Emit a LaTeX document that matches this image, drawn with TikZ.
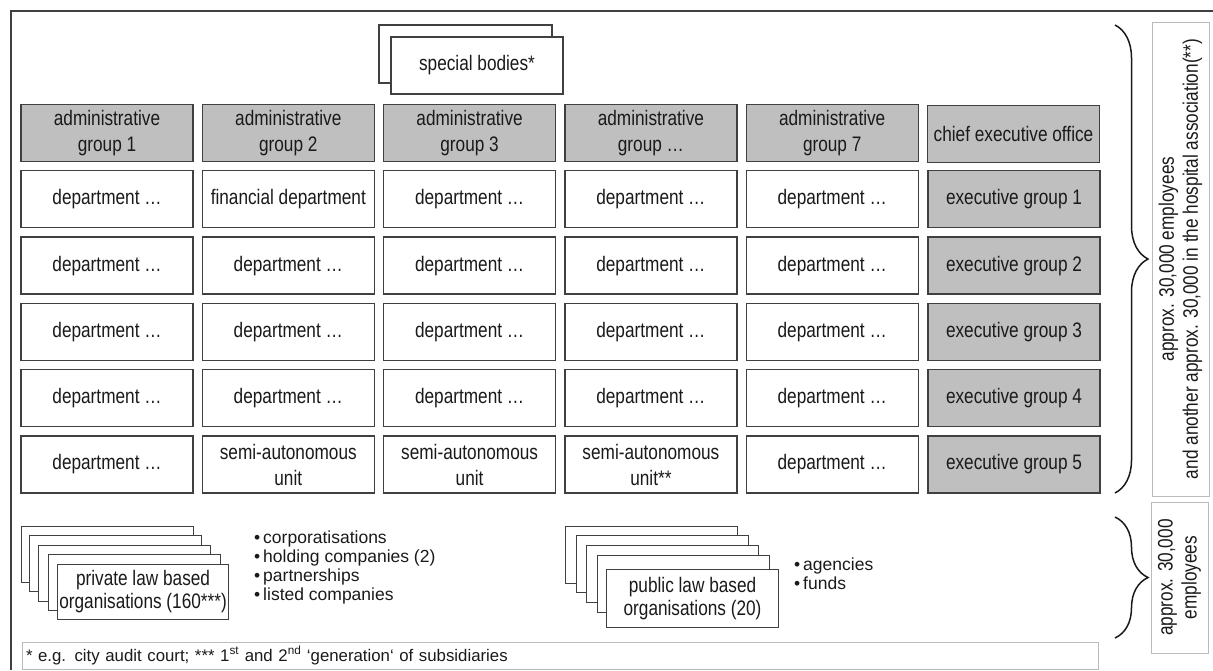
\documentclass[tikz,border=0pt]{standalone}
\usepackage{fontspec}
\setmainfont{Liberation Sans}[FakeStretch=0.82]
\newfontfamily\widefont{Liberation Sans}
\usetikzlibrary{decorations.pathreplacing}
\definecolor{boxgrey}{HTML}{BFBFBF}
\definecolor{edge}{HTML}{404040}
\definecolor{lightedge}{HTML}{BBBBBB}
\definecolor{ink}{HTML}{1A1A1A}
\tikzset{
  cell/.style={draw=edge, line width=1.3pt, fill=white, minimum width=172pt, minimum height=57pt, inner sep=0pt, align=center, text=ink, font=\fontsize{21}{26}\selectfont},
  gcell/.style={cell, fill=boxgrey},
  stackbox/.style={draw=edge, line width=1.1pt, fill=white},
  sidebox/.style={draw=lightedge, line width=1pt, inner sep=0pt, align=center, text=ink, font=\fontsize{21}{24}\selectfont, rotate=90},
  bullets/.style={align=left, text=ink, inner sep=0pt, font=\widefont\fontsize{17.5}{19}\selectfont},
  bracestyle/.style={draw=ink, line width=1.5pt, decorate, decoration={brace, amplitude=33pt}}
}
\begin{document}
\begin{tikzpicture}[x=1pt, y=-1pt]
\useasboundingbox (0,0) rectangle (1213,670);
% outer frame
\coordinate (fbl) at (11,670);
\coordinate (ftl) at (11,11);
\coordinate (ftr) at (1213,11);
\draw[color=edge, line width=1.5pt] (fbl) -- (ftl) -- (ftr);

% special bodies
\node[stackbox, minimum width=173pt, minimum height=58pt, inner sep=0pt] (sb0) at (465.5,54) {};
\node[cell, minimum width=172pt, minimum height=57pt] (sb1) at (477,65.5) {special bodies*};

% columns
\foreach \i/\t in {1/{administrative\\group 1},2/{administrative\\group 2},3/{administrative\\group 3},4/{administrative\\group \dots},5/{administrative\\group 7}}{
  \node[gcell] (adm\i) at ({107+181.3*(\i-1)},133) {\t};
}
\node[gcell] (ceo) at (1013.5,134) {chief executive office};

% department rows
\foreach \r in {1,...,5}{
  \node[gcell] (ex\r) at (1014,{133+66.3*\r}) {executive group \r};
}
\node[cell] (d11) at (107,199.3) {department \dots};
\node[cell] (d12) at (288.3,199.3) {financial department};
\node[cell] (d13) at (469.6,199.3) {department \dots};
\node[cell] (d14) at (650.9,199.3) {department \dots};
\node[cell] (d15) at (832.2,199.3) {department \dots};
\foreach \r in {2,3,4}{
  \foreach \c in {1,...,5}{
    \node[cell] (d\r\c) at ({107+181.3*(\c-1)},{133+66.3*\r}) {department \dots};
  }
}
\node[cell] (d51) at (107,464.5) {department \dots};
\node[cell] (d52) at (288.3,464.5) {semi-autonomous\\unit};
\node[cell] (d53) at (469.6,464.5) {semi-autonomous\\unit};
\node[cell] (d54) at (650.9,464.5) {semi-autonomous\\unit**};
\node[cell] (d55) at (832.2,464.5) {department \dots};

% private law stack
\foreach \k/\l/\t in {0/21/526,1/29/535,2/38/545,3/48/554}{
  \node[stackbox, minimum width=172pt, minimum height=56pt, inner sep=0pt, anchor=north west] (pv\k) at (\l,\t) {};
}
\node[stackbox, minimum width=171pt, minimum height=55pt, inner sep=0pt, anchor=north west] (pv4) at (57,564) {};
\node[align=center, text=ink, inner sep=0pt, font=\fontsize{21}{23}\selectfont] (pvt) at (pv4.center) {private law based\\organisations (160***)};
\node[bullets, anchor=west] (pvl) at (254,567) {\textbullet\,corporatisations\\\textbullet\,holding companies (2)\\\textbullet\,partnerships\\\textbullet\,listed companies};

% public law stack
\foreach \k/\l/\t in {0/565/526,1/576/535,2/586/545,3/597/555}{
  \node[stackbox, minimum width=172pt, minimum height=57pt, inner sep=0pt, anchor=north west] (pb\k) at (\l,\t) {};
}
\node[stackbox, minimum width=172pt, minimum height=58pt, inner sep=0pt, anchor=north west] (pb4) at (606,569) {};
\node[align=center, text=ink, inner sep=0pt, font=\fontsize{21}{23}\selectfont] (pbt) at (pb4.center) {public law based\\organisations (20)};
\node[bullets, anchor=west] (pbl) at (794,574) {\textbullet\,agencies\\\textbullet\,funds};

% footnote
\node[draw=lightedge, line width=1pt, minimum width=1076pt, minimum height=27pt, inner sep=3pt, text width=1068pt, align=left, text=ink, font=\widefont\fontsize{16.8}{18}\selectfont] (foot) at (560,655.5) {* e.g. city audit court; *** 1\textsuperscript{st} and 2\textsuperscript{nd} ‘generation‘ of subsidiaries};

% side boxes
\node[sidebox, minimum width=474pt, minimum height=57pt] (side1) at (1180.5,259) {approx. 30,000 employees\\and another approx. 30,000 in the hospital association(**)};
\node[sidebox, minimum width=151pt, minimum height=57pt] (side2) at (1179.5,577.5) {approx. 30,000\\employees};

% braces
\coordinate (b1t) at (1115,25);
\coordinate (b1b) at (1115,493);
\coordinate (b2t) at (1115,517);
\coordinate (b2b) at (1115,638);
\draw[bracestyle] (b1t) -- (b1b);
\draw[bracestyle] (b2t) -- (b2b);
\end{tikzpicture}
\end{document}
